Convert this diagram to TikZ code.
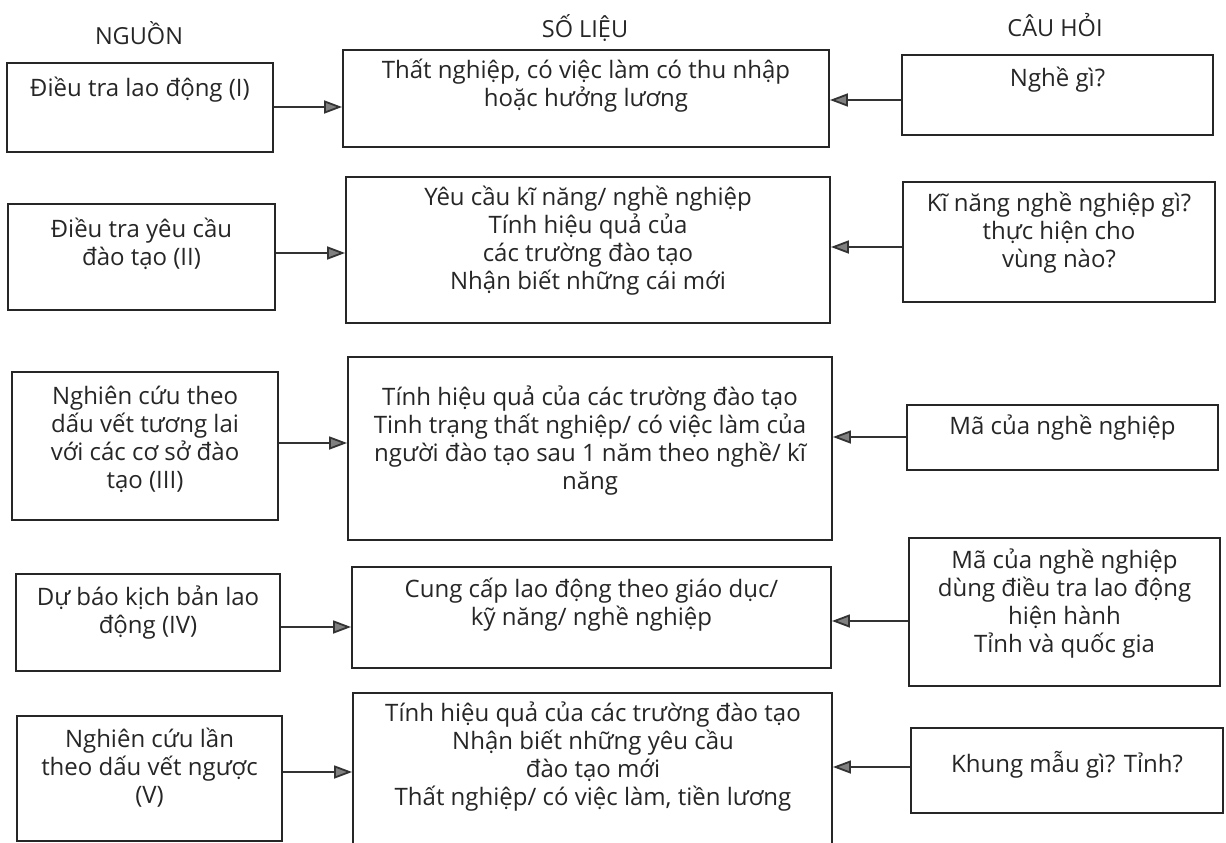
\documentclass[tikz,border=0pt]{standalone}
\usepackage{fontspec}
\setmainfont{Open Sans}
\usetikzlibrary{arrows.meta,fit}
\begin{document}
\begin{tikzpicture}[x=1pt,y=-1pt,
  box/.style={draw=black!85, line width=1.9pt, inner sep=0pt},
  txt/.style={align=center, font=\fontsize{24}{28}\selectfont, inner sep=0pt, text=black!85},
  head/.style={font=\fontsize{23.5}{26}\selectfont, inner sep=0pt, text=black!85},
  arr/.style={line width=1.8pt, draw=black!80, -{Triangle[length=18pt,width=13pt,fill=black!50]}}]
\useasboundingbox (0,0) rectangle (1226,843);
\clip (0,0) rectangle (1226,843);
\fill[white] (0,0) rectangle (1226,843);

% headings
\node[head] (h1) at (139,33) {NGUỒN};
\node[head] (h2) at (585,28) {SỐ LIỆU};
\node[head] (h3) at (1055,25) {CÂU HỎI};

% source boxes
\node[box, fit={(7,63) (273,152)}] (s1) {};
\node[txt] (ts1) at (140,90) {Điều tra lao động (I)};
\node[box, fit={(8,204) (275,310)}] (s2) {};
\node[txt] (ts2) at (141.5,243.5) {Điều tra yêu cầu\\đào tạo (II)};
\node[box, fit={(12,372) (278,520)}] (s3) {};
\node[txt] (ts3) at (145,439.5) {Nghiên cứu theo\\dấu vết tương lai\\với các cơ sở đào\\tạo (III)};
\node[box, fit={(16,574) (280,671)}] (s4) {};
\node[txt] (ts4) at (148,612.5) {Dự báo kịch bản lao\\động (IV)};
\node[box, fit={(17,716) (282,841)}] (s5) {};
\node[txt] (ts5) at (149.5,767.5) {Nghiên cứu lần\\theo dấu vết ngược\\(V)};

% data boxes
\node[box, fit={(343,50) (829,147)}] (d1) {};
\node[txt] (td1) at (586,86) {Thất nghiệp, có việc làm có thu nhập\\hoặc hưởng lương};
\node[box, fit={(346,177) (830,323)}] (d2) {};
\node[txt] (td2) at (588,241) {Yêu cầu kĩ năng/ nghề nghiệp\\Tính hiệu quả của\\các trường đào tạo\\Nhận biết những cái mới};
\node[box, fit={(348,357) (832,540)}] (d3) {};
\node[txt] (td3) at (590,440.5) {Tính hiệu quả của các trường đào tạo\\Tinh trạng thất nghiệp/ có việc làm của\\người đào tạo sau 1 năm theo nghề/ kĩ\\năng};
\node[box, fit={(352,567) (831,668)}] (d4) {};
\node[txt] (td4) at (591.5,604.5) {Cung cấp lao động theo giáo dục/\\kỹ năng/ nghề nghiệp};
\node[box, fit={(353,693) (832,852)}] (d5) {};
\node[txt] (td5) at (593,756.5) {Tính hiệu quả của các trường đào tạo\\Nhận biết những yêu cầu\\đào tạo mới\\Thất nghiệp/ có việc làm, tiền lương};

% question boxes
\node[box, fit={(902,55) (1213,135)}] (q1) {};
\node[txt] (tq1) at (1057.5,80) {Nghề gì?};
\node[box, fit={(903,182) (1215,302)}] (q2) {};
\node[txt] (tq2) at (1059,232.5) {Kĩ năng nghề nghiệp gì?\\thực hiện cho\\vùng nào?};
\node[box, fit={(907,405) (1218,470)}] (q3) {};
\node[txt] (tq3) at (1062.5,428) {Mã của nghề nghiệp};
\node[box, fit={(909,538) (1220,686)}] (q4) {};
\node[txt] (tq4) at (1064.5,603.5) {Mã của nghề nghiệp\\dùng điều tra lao động\\hiện hành\\Tỉnh và quốc gia};
\node[box, fit={(911,728) (1223,813)}] (q5) {};
\node[txt] (tq5) at (1067,765) {Khung mẫu gì? Tỉnh?};

% arrow levels
\coordinate (a1) at (0,107);
\coordinate (a2) at (0,253);
\coordinate (a3) at (0,443);
\coordinate (a4) at (0,627);
\coordinate (a5) at (0,772);
\coordinate (b1) at (0,100);
\coordinate (b2) at (0,247);
\coordinate (b3) at (0,437);
\coordinate (b4) at (0,621);
\coordinate (b5) at (0,767);

\draw[arr] (s1.east |- a1) -- (d1.west |- a1);
\draw[arr] (s2.east |- a2) -- (d2.west |- a2);
\draw[arr] (s3.east |- a3) -- (d3.west |- a3);
\draw[arr] (s4.east |- a4) -- (d4.west |- a4);
\draw[arr] (s5.east |- a5) -- (d5.west |- a5);

\draw[arr] (q1.west |- b1) -- (d1.east |- b1);
\draw[arr] (q2.west |- b2) -- (d2.east |- b2);
\draw[arr] (q3.west |- b3) -- (d3.east |- b3);
\draw[arr] (q4.west |- b4) -- (d4.east |- b4);
\draw[arr] (q5.west |- b5) -- (d5.east |- b5);
\end{tikzpicture}
\end{document}
